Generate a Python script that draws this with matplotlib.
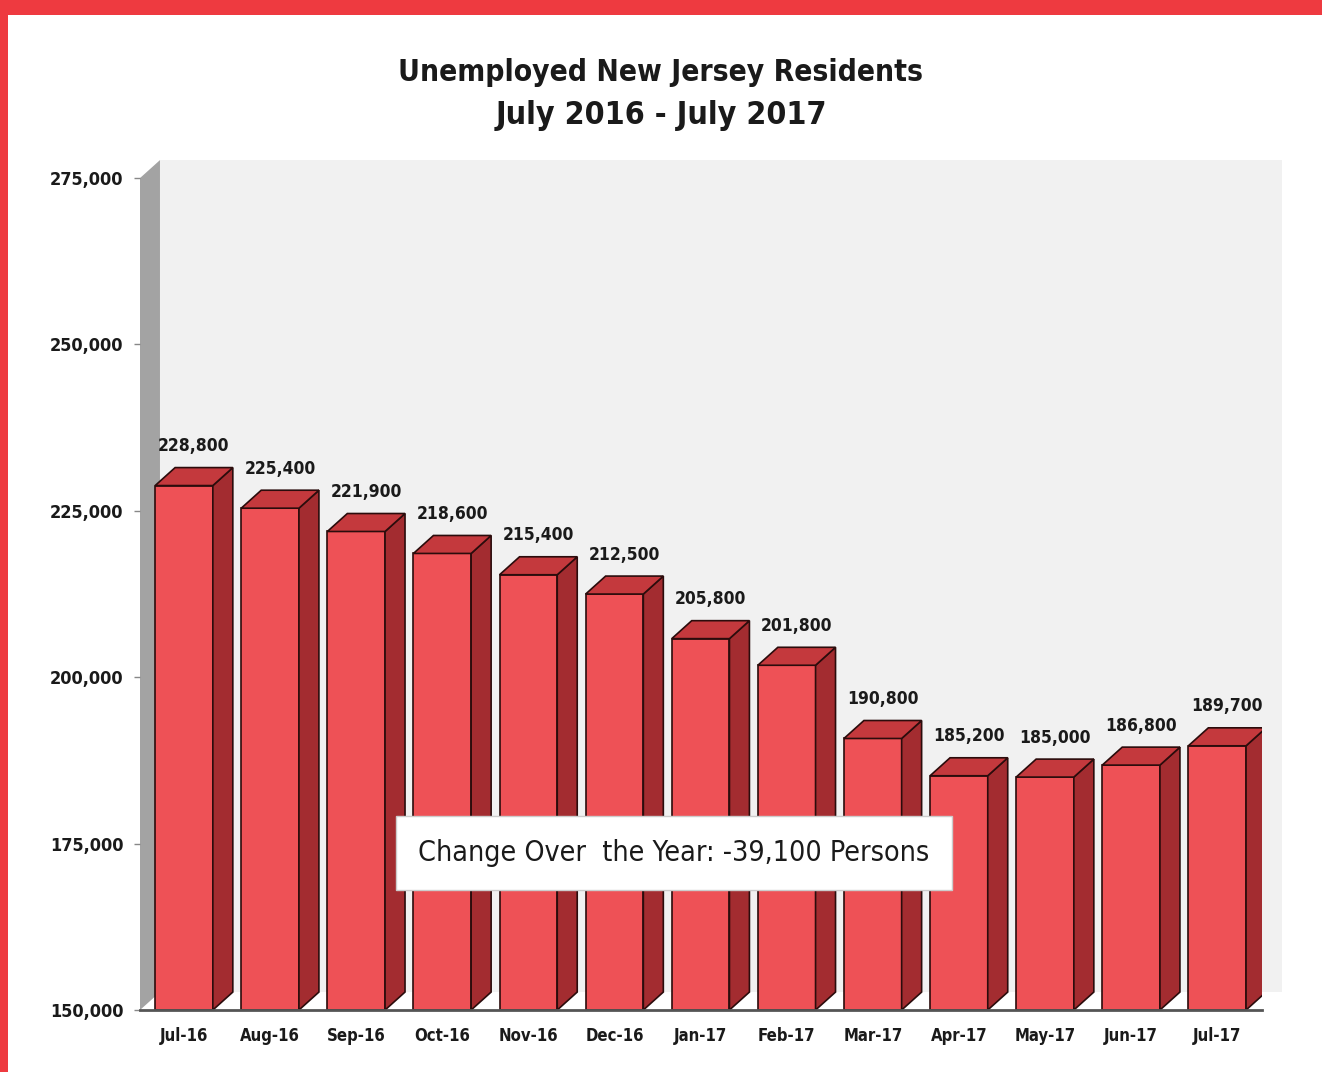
#Gráfico de barras 3D: desempleados en Nueva Jersey
import numpy as np
import matplotlib.pyplot as plt
from matplotlib.patches import Polygon, Rectangle

plt.rcParams['font.family'] = ['DejaVu Sans']
plt.rcParams['font.stretch'] = 'condensed'

#Datos
meses = ['Jul-16', 'Aug-16', 'Sep-16', 'Oct-16', 'Nov-16', 'Dec-16', 'Jan-17',
         'Feb-17', 'Mar-17', 'Apr-17', 'May-17', 'Jun-17', 'Jul-17']
desempleados = [228800, 225400, 221900, 218600, 215400, 212500, 205800,
                201800, 190800, 185200, 185000, 186800, 189700]
ticks_y = [150000, 175000, 200000, 225000, 250000, 275000]
nota = 'Change Over  the Year: -39,100 Persons'

#Colores
rojo_frente = '#ee5156'
rojo_lado = '#a32c30'
rojo_techo = '#c4393d'
borde = '#2b0c0c'

fig = plt.figure(figsize=(13.22, 10.72), dpi=100)
ax = fig.add_axes([0.1059, 0.0578, 0.8487, 0.7761])
ax.set_facecolor('none')

x0, x1 = -0.511, 12.52
y0, y1 = ticks_y[0], ticks_y[-1]
ax.set_xlim(x0, x1)
ax.set_ylim(y0, y1)

#profundidad del efecto 3D (en unidades de datos)
dx = 0.232
dy = 2700
ancho = 0.67

#pared del fondo y pared izquierda
ax.add_patch(Polygon([(x0 + dx, y0 + dy), (x1 + dx, y0 + dy), (x1 + dx, y1 + dy), (x0 + dx, y1 + dy)],
                     closed=True, facecolor='#f1f1f1', edgecolor='none', clip_on=False, zorder=0))
ax.add_patch(Polygon([(x0, y0), (x0 + dx, y0 + dy), (x0 + dx, y1 + dy), (x0, y1)],
                     closed=True, facecolor='#a3a3a3', edgecolor='none', clip_on=False, zorder=1))

x = np.arange(len(meses))
for xi, v in zip(x, desempleados):
    izq = xi - ancho / 2
    der = xi + ancho / 2
    ax.add_patch(Rectangle((izq, y0), ancho, v - y0, facecolor=rojo_frente,
                           edgecolor=borde, linewidth=1.2, zorder=3))
    ax.add_patch(Polygon([(der, y0), (der + dx, y0 + dy), (der + dx, v + dy), (der, v)],
                         closed=True, facecolor=rojo_lado, edgecolor=borde, linewidth=1.2, zorder=3))
    ax.add_patch(Polygon([(izq, v), (izq + dx, v + dy), (der + dx, v + dy), (der, v)],
                         closed=True, facecolor=rojo_techo, edgecolor=borde, linewidth=1.2, zorder=3))
    ax.annotate(f'{v:,}', (xi + dx / 2, v + dy), xytext=(0, 9), textcoords='offset points',
                ha='center', va='bottom', fontsize=12.5, fontweight='bold', color='#1a1a1a',
                annotation_clip=False)

#ejes
for lado in ['left', 'right', 'top']:
    ax.spines[lado].set_visible(False)
ax.spines['bottom'].set_color('#555555')
ax.spines['bottom'].set_linewidth(2)
ax.spines['bottom'].set_zorder(4)

ax.set_yticks(ticks_y)
ax.set_yticklabels([f'{t:,}' for t in ticks_y], fontsize=13, fontweight='bold', color='#1a1a1a')
ax.tick_params(axis='y', length=4, width=1, color='#888888', pad=8)
ax.set_xticks(x)
ax.set_xticklabels(meses, fontsize=12, fontweight='bold', color='#1a1a1a')
ax.tick_params(axis='x', length=0, pad=12)

#nota
ax.text(5.69, 173600, nota, ha='center', va='center', fontsize=20.5, color='#1a1a1a', zorder=6,
        bbox=dict(boxstyle='square,pad=0.8', facecolor='white', edgecolor='#cccccc', linewidth=1))

#título
fig.text(0.5, 0.932, 'Unemployed New Jersey Residents', ha='center', va='center',
         fontsize=21.5, fontweight='bold', color='#1a1a1a')
fig.text(0.5, 0.892, 'July 2016 - July 2017', ha='center', va='center',
         fontsize=23, fontweight='bold', color='#1a1a1a')

#marco rojo
fig.patches.append(Rectangle((0, 1 - 15 / 1072), 1, 15 / 1072, transform=fig.transFigure,
                             facecolor='#ee3a40', edgecolor='none', zorder=10))
fig.patches.append(Rectangle((0, 0), 8 / 1322, 1, transform=fig.transFigure,
                             facecolor='#ee3a40', edgecolor='none', zorder=10))

plt.savefig('out.png', dpi=100)
